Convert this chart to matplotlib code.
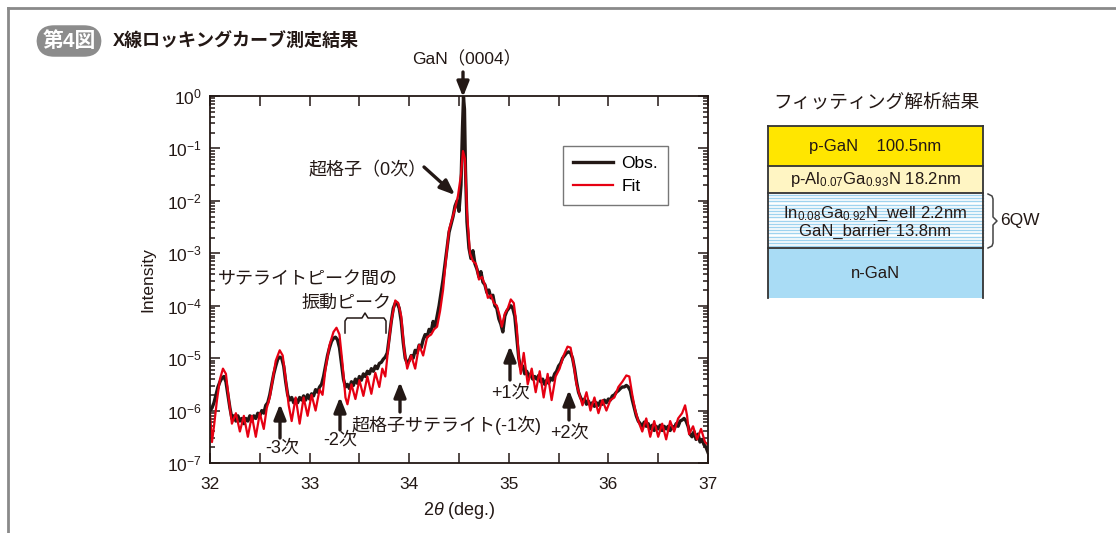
import numpy as np
import matplotlib.pyplot as plt
from matplotlib.ticker import LogLocator, MultipleLocator, NullFormatter
from matplotlib.patches import Rectangle
from matplotlib.lines import Line2D

plt.rcParams['font.family'] = ['Liberation Sans', 'Noto Sans CJK JP']
plt.rcParams['mathtext.fontset'] = 'custom'
plt.rcParams['mathtext.rm'] = 'Liberation Sans'
plt.rcParams['mathtext.it'] = 'Liberation Sans:italic'

INK = '#231815'
RED = '#e60012'

# rocking curve, fit (2theta in deg, log10 intensity)
fit_x = [32.00, 32.02, 32.04, 32.07, 32.10, 32.13, 32.16, 32.19, 32.22, 32.26,
         32.30, 32.34, 32.38, 32.42, 32.46, 32.50, 32.54, 32.57, 32.60, 32.63,
         32.66, 32.70, 32.73, 32.76, 32.79, 32.82, 32.86, 32.90, 32.94, 32.98,
         33.02, 33.06, 33.10, 33.13, 33.16, 33.20, 33.24, 33.27, 33.30, 33.33,
         33.36, 33.38, 33.42, 33.46, 33.50, 33.54, 33.58, 33.62, 33.66, 33.70,
         33.73, 33.76, 33.79, 33.82, 33.86, 33.89, 33.92, 33.95, 33.98, 34.02,
         34.06, 34.10, 34.14, 34.18, 34.22, 34.25, 34.28, 34.31, 34.34, 34.37,
         34.40, 34.43, 34.46, 34.49, 34.52, 34.54, 34.56, 34.58, 34.61, 34.64,
         34.67, 34.70, 34.73, 34.76, 34.79, 34.82, 34.85, 34.88, 34.91, 34.93,
         34.96, 34.99, 35.02, 35.05, 35.08, 35.10, 35.12, 35.15, 35.19, 35.23,
         35.27, 35.31, 35.35, 35.39, 35.43, 35.47, 35.51, 35.55, 35.59, 35.62,
         35.65, 35.68, 35.71, 35.74, 35.78, 35.82, 35.86, 35.90, 35.94, 35.98,
         36.02, 36.06, 36.10, 36.14, 36.18, 36.21, 36.24, 36.27, 36.30, 36.34,
         36.38, 36.42, 36.46, 36.50, 36.54, 36.58, 36.62, 36.66, 36.70, 36.74,
         36.77, 36.79, 36.81, 36.85, 36.89, 36.93, 36.97, 37.00]
fit_log = [-6.05, -6.6, -6.3, -5.8, -5.4, -5.2, -5.3, -5.8, -6.25, -6.05,
           -6.4, -6.1, -6.5, -6.1, -6.5, -6.05, -6.35, -5.95, -5.75, -5.4,
           -5.05, -4.85, -4.95, -5.4, -5.9, -6.2, -5.75, -6.25, -5.75, -6.1,
           -5.7, -6.0, -5.6, -5.7, -5.2, -4.75, -4.5, -4.42, -4.55, -5.1,
           -5.75, -5.88, -5.5, -5.78, -5.42, -5.72, -5.35, -5.68, -5.28, -5.55,
           -5.2, -5.35, -4.8, -4.3, -3.9, -3.95, -4.2, -4.85, -5.2, -4.95,
           -5.2, -4.75, -4.95, -4.6, -4.55, -4.45, -4.4, -4.1, -3.7, -3.1,
           -2.55, -2.35, -2.15, -1.9, -1.5, -1.05, -1.2, -2.2, -3.0, -3.15,
           -3.2, -3.5, -3.45, -3.6, -3.85, -3.8, -3.95, -4.0, -4.2, -4.4,
           -4.15, -4.05, -3.88, -3.95, -4.4, -5.0, -5.3, -4.9, -5.5, -5.2,
           -5.65, -5.25, -5.75, -5.3, -5.8, -5.35, -5.2, -4.95, -4.78, -4.8,
           -5.1, -5.5, -5.7, -5.9, -5.65, -6.0, -5.75, -6.05, -5.8, -6.0,
           -5.8, -5.75, -5.55, -5.45, -5.33, -5.35, -5.7, -6.0, -6.2, -6.4,
           -6.15, -6.5, -6.2, -6.5, -6.25, -6.55, -6.2, -6.4, -6.15, -6.05,
           -5.9, -6.1, -6.45, -6.3, -6.55, -6.35, -6.6, -6.65]

# rocking curve, measured
obs_x = [32.00, 32.02, 32.04, 32.06, 32.08, 32.10, 32.12, 32.14, 32.16, 32.18,
         32.20, 32.22, 32.24, 32.26, 32.28, 32.30, 32.32, 32.34, 32.36, 32.38,
         32.40, 32.42, 32.44, 32.46, 32.48, 32.50, 32.52, 32.54, 32.56, 32.58,
         32.60, 32.62, 32.64, 32.66, 32.68, 32.70, 32.72, 32.74, 32.76, 32.78,
         32.80, 32.82, 32.84, 32.86, 32.88, 32.90, 32.92, 32.94, 32.96, 32.98,
         33.00, 33.02, 33.04, 33.06, 33.08, 33.10, 33.12, 33.14, 33.16, 33.18,
         33.20, 33.22, 33.24, 33.26, 33.28, 33.30, 33.32, 33.34, 33.36, 33.38,
         33.40, 33.42, 33.44, 33.46, 33.48, 33.50, 33.52, 33.54, 33.56, 33.58,
         33.60, 33.62, 33.64, 33.66, 33.68, 33.70, 33.72, 33.74, 33.76, 33.78,
         33.80, 33.82, 33.84, 33.86, 33.88, 33.90, 33.92, 33.94, 33.96, 33.98,
         34.00, 34.02, 34.04, 34.06, 34.08, 34.10, 34.12, 34.14, 34.16, 34.18,
         34.20, 34.22, 34.24, 34.26, 34.28, 34.30, 34.32, 34.34, 34.36, 34.38,
         34.40, 34.42, 34.44, 34.46, 34.48, 34.50, 34.52, 34.535, 34.545, 34.555,
         34.565, 34.58, 34.60, 34.62, 34.64, 34.66, 34.68, 34.70, 34.72, 34.74,
         34.76, 34.78, 34.80, 34.82, 34.84, 34.86, 34.88, 34.90, 34.92, 34.94,
         34.96, 34.98, 35.00, 35.02, 35.04, 35.06, 35.08, 35.10, 35.12, 35.14,
         35.16, 35.18, 35.20, 35.22, 35.24, 35.26, 35.28, 35.30, 35.32, 35.34,
         35.36, 35.38, 35.40, 35.42, 35.44, 35.46, 35.48, 35.50, 35.52, 35.54,
         35.56, 35.58, 35.60, 35.62, 35.64, 35.66, 35.68, 35.70, 35.72, 35.74,
         35.76, 35.78, 35.80, 35.82, 35.84, 35.86, 35.88, 35.90, 35.92, 35.94,
         35.96, 35.98, 36.00, 36.02, 36.04, 36.06, 36.08, 36.10, 36.12, 36.14,
         36.16, 36.18, 36.20, 36.22, 36.24, 36.26, 36.28, 36.30, 36.32, 36.34,
         36.36, 36.38, 36.40, 36.42, 36.44, 36.46, 36.48, 36.50, 36.52, 36.54,
         36.56, 36.58, 36.60, 36.62, 36.64, 36.66, 36.68, 36.70, 36.72, 36.74,
         36.76, 36.78, 36.80, 36.82, 36.84, 36.86, 36.88, 36.90, 36.92, 36.94,
         36.96, 36.98, 37.00]
obs_log = [-6.0, -5.95, -5.85, -5.7, -5.55, -5.45, -5.38, -5.35, -5.45, -5.7,
           -5.95, -6.15, -6.1, -6.2, -6.1, -6.2, -6.15, -6.25, -6.15, -6.2,
           -6.1, -6.2, -6.1, -6.15, -6.05, -6.1, -6.0, -6.05, -5.9, -5.85,
           -5.7, -5.5, -5.3, -5.15, -5.02, -4.98, -5.0, -5.15, -5.45, -5.7,
           -5.8, -5.75, -5.85, -5.78, -5.85, -5.75, -5.8, -5.72, -5.8, -5.7,
           -5.78, -5.68, -5.72, -5.6, -5.65, -5.55, -5.5, -5.35, -5.15, -4.95,
           -4.8, -4.68, -4.62, -4.6, -4.65, -4.8, -5.1, -5.4, -5.55, -5.5,
           -5.58, -5.45, -5.52, -5.4, -5.48, -5.35, -5.42, -5.3, -5.35, -5.25,
           -5.3, -5.2, -5.25, -5.15, -5.2, -5.1, -5.08, -5.02, -4.98, -4.9,
           -4.6, -4.3, -4.05, -3.95, -3.95, -4.05, -4.3, -4.7, -5.0, -5.1,
           -5.05, -4.95, -5.0, -4.85, -4.9, -4.75, -4.8, -4.65, -4.55, -4.6,
           -4.45, -4.5, -4.3, -4.4, -4.2, -4.0, -3.75, -3.5, -3.2, -2.9,
           -2.6, -2.45, -2.3, -2.1, -2.0, -2.2, -1.7, -0.6, -0.02, -0.25,
           -1.4, -2.4, -2.9, -3.1, -2.95, -3.2, -3.3, -3.45, -3.35, -3.55,
           -3.6, -3.75, -3.7, -3.85, -3.8, -4.0, -4.05, -4.25, -4.35, -4.5,
           -4.2, -4.1, -4.05, -4.0, -4.05, -4.2, -4.6, -5.0, -5.2, -5.15,
           -5.3, -5.25, -5.35, -5.3, -5.4, -5.35, -5.4, -5.33, -5.45, -5.4,
           -5.5, -5.42, -5.48, -5.38, -5.42, -5.3, -5.25, -5.15, -5.1, -5.0,
           -4.95, -4.9, -4.88, -4.9, -5.0, -5.2, -5.45, -5.65, -5.75, -5.82,
           -5.78, -5.88, -5.82, -5.9, -5.85, -5.92, -5.85, -5.9, -5.82, -5.88,
           -5.8, -5.85, -5.78, -5.8, -5.72, -5.7, -5.65, -5.62, -5.58, -5.55,
           -5.55, -5.52, -5.55, -5.62, -5.8, -5.95, -6.1, -6.2, -6.25, -6.3,
           -6.22, -6.3, -6.25, -6.35, -6.28, -6.38, -6.3, -6.35, -6.28, -6.38,
           -6.3, -6.35, -6.3, -6.38, -6.3, -6.35, -6.25, -6.3, -6.2, -6.18,
           -6.15, -6.2, -6.3, -6.45, -6.5, -6.4, -6.55, -6.45, -6.6, -6.55,
           -6.65, -6.7, -6.8]

# layer stack from the fit
layer_labels = ['p-GaN    100.5nm',
                'p-Al$_{0.07}$Ga$_{0.93}$N 18.2nm',
                'In$_{0.08}$Ga$_{0.92}$N_well 2.2nm\nGaN_barrier 13.8nm',
                'n-GaN']
layer_colors = ['#ffe600', '#fff5c3', '#ffffff', '#a9dcf5']

fig = plt.figure(figsize=(11.16, 5.33), dpi=100)
W, H = 1116, 533

ax = fig.add_axes([210 / W, 1 - 463 / H, 498 / W, 367 / H])
ax.plot(obs_x, 10 ** np.array(obs_log), color=INK, lw=2.4, label='Obs.')
ax.plot(fit_x, 10 ** np.array(fit_log), color=RED, lw=1.6, label='Fit')
ax.set_yscale('log')
ax.set_xlim(32, 37)
ax.set_ylim(1e-7, 1)
ax.xaxis.set_major_locator(MultipleLocator(1))
ax.xaxis.set_minor_locator(MultipleLocator(0.5))
ax.yaxis.set_major_locator(LogLocator(base=10, numticks=10))
ax.yaxis.set_minor_locator(LogLocator(base=10, subs=np.arange(2, 10), numticks=10))
ax.yaxis.set_minor_formatter(NullFormatter())
ax.tick_params(which='both', direction='in', top=True, right=True,
               labelsize=12.5, color=INK, labelcolor=INK, width=1.1)
ax.tick_params(which='major', length=7, pad=6)
ax.tick_params(axis='x', which='major', pad=10)
ax.tick_params(axis='y', which='minor', length=3.5)
ax.tick_params(axis='x', which='minor', length=7)
for s in ax.spines.values():
    s.set_linewidth(1.3)
    s.set_color(INK)
ax.set_ylabel('Intensity', fontsize=12.5, color=INK, labelpad=8)
ax.set_xlabel('2$\\it{\\theta}$ (deg.)', fontsize=13, color=INK, labelpad=6)
leg = ax.legend(loc='upper left', bbox_to_anchor=(0.709, 0.864), fontsize=12.5,
                handlelength=2.3, fancybox=False, edgecolor='#555555',
                borderpad=0.6, labelspacing=0.45, handletextpad=0.45,
                borderaxespad=0)
leg.get_frame().set_linewidth(1.0)

# pixel canvas for annotations and the layer diagram
cv = fig.add_axes([0, 0, 1, 1], zorder=3)
cv.set_xlim(0, W)
cv.set_ylim(H, 0)
cv.axis('off')
cv.patch.set_alpha(0)

cv.add_line(Line2D([8, W], [8, 8], color='#8a8a8a', lw=2))
cv.add_line(Line2D([8, 8], [8, H], color='#8a8a8a', lw=2))

cv.text(69, 41, '第4図', fontsize=15, fontweight='bold', color='white',
        ha='center', va='center',
        bbox=dict(boxstyle='round,pad=0.28,rounding_size=0.85', fc='#8c8c8c', ec='none'))
cv.text(113, 41, 'X線ロッキングカーブ測定結果', fontsize=13, fontweight='bold',
        color=INK, ha='left', va='center')

arrow = dict(arrowstyle='-|>,head_width=0.18,head_length=0.45', lw=2.4,
             color=INK, shrinkA=0, shrinkB=0, mutation_scale=20)

def up_arrow(x, y0, y1, label, ly, lx=None):
    cv.annotate('', xy=(x, y1), xytext=(x, y0), arrowprops=arrow)
    cv.text(x if lx is None else lx, ly, label, fontsize=13, color=INK,
            ha='center', va='center')

cv.text(467, 59, 'GaN（0004）', fontsize=12.5, color=INK, ha='center', va='center')
cv.annotate('', xy=(463, 97), xytext=(463, 72), arrowprops=arrow)
cv.text(368, 171, '超格子（0次）', fontsize=13, color=INK, ha='center', va='center')
cv.annotate('', xy=(455, 195), xytext=(424, 167), arrowprops=arrow)

up_arrow(280, 438, 404, '-3次', 448, 282)
up_arrow(340, 430, 397, '-2次', 440)
up_arrow(400, 412, 382, '超格子サテライト(-1次)', 425, 447)
up_arrow(510, 380, 346, '+1次', 393)
up_arrow(569, 420, 390, '+2次', 433)

cv.text(308, 279, 'サテライトピーク間の', fontsize=13, color=INK, ha='center', va='center')
cv.text(346, 303, '振動ピーク', fontsize=13, color=INK, ha='center', va='center')
cv.add_line(Line2D([345, 345, 347, 362, 365, 368, 384, 386, 386],
                   [333, 321, 318, 318, 313, 318, 318, 321, 333], color=INK, lw=1.1))

# layer diagram
cv.text(876, 103, 'フィッティング解析結果', fontsize=13.5, color=INK, ha='center', va='center')
bounds = [126, 166, 193, 248, 298]
for i, (lab, col) in enumerate(zip(layer_labels, layer_colors)):
    y0, y1 = bounds[i], bounds[i + 1]
    cv.add_patch(Rectangle((768, y0), 215, y1 - y0, fc=col, ec='none'))
    if i == 2:
        for ys in np.arange(y0 + 2, y1 - 1, 3.2):
            cv.add_line(Line2D([768, 983], [ys, ys], color='#9fd3ef', lw=1.0))
    cv.text(875.5, (y0 + y1) / 2 + (0 if i != 2 else 1), lab, fontsize=12, color=INK,
            ha='center', va='center', linespacing=1.05)
for yb in bounds[:-1]:
    cv.add_line(Line2D([768, 983], [yb, yb], color='#333333', lw=1.3))
cv.add_line(Line2D([768, 768], [126, 298], color='#333333', lw=1.3))
cv.add_line(Line2D([983, 983], [126, 298], color='#333333', lw=1.3))

cv.add_line(Line2D([988, 992, 993, 993, 997, 993, 993, 992, 988],
                   [194, 196, 199, 217, 221, 225, 243, 246, 248], color='#444444', lw=1.1))
cv.text(1000, 221, '6QW', fontsize=12.5, color=INK, ha='left', va='center')

fig.savefig('out.png', dpi=100)
